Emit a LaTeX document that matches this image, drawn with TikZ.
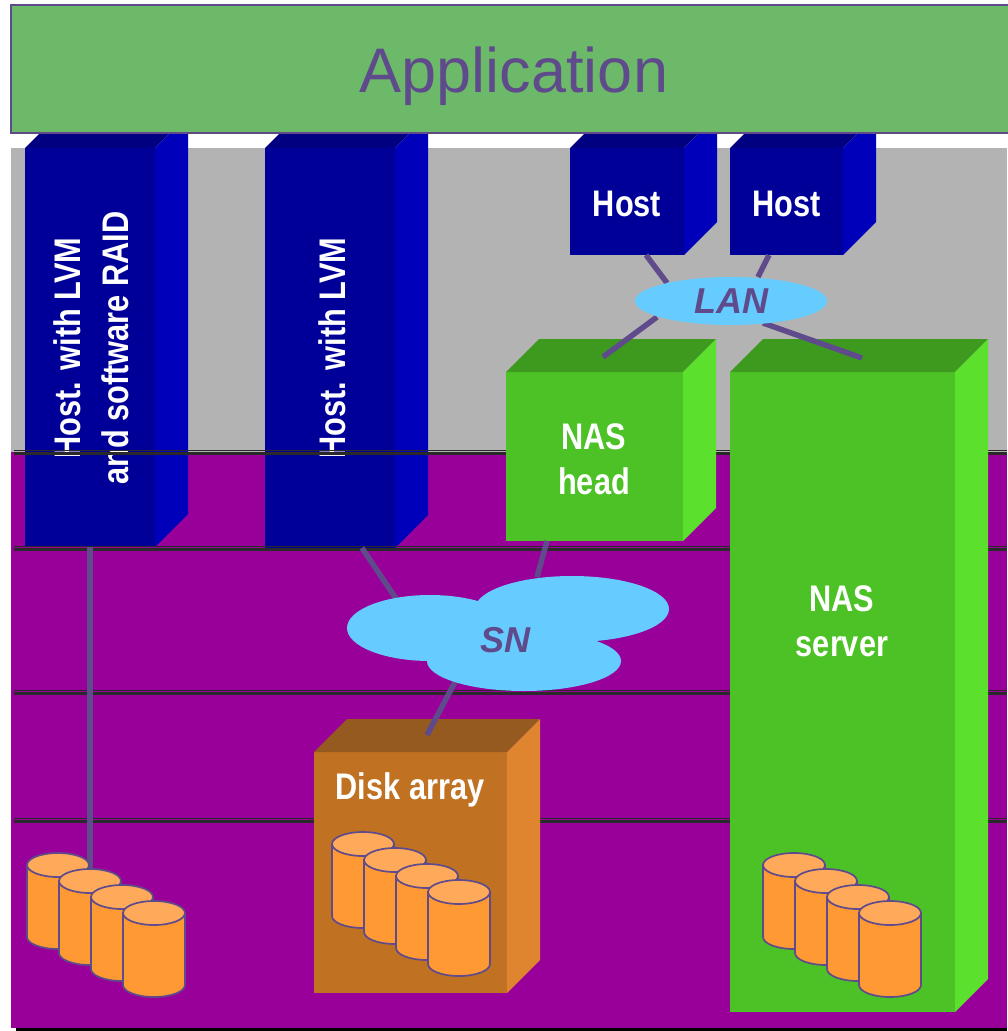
\documentclass[tikz,border=0pt]{standalone}
\usepackage{fontspec}
\setmainfont{Liberation Sans}
\newfontfamily\nfont[FakeStretch=0.83]{Liberation Sans}
\usetikzlibrary{shapes.geometric,calc}
\definecolor{appgreen}{HTML}{6DB96A}
\definecolor{ink}{HTML}{5F4B8B}
\definecolor{graybg}{HTML}{B3B3B3}
\definecolor{purplebg}{HTML}{990099}
\definecolor{rule}{HTML}{2A2A2A}
\definecolor{bluefront}{HTML}{000099}
\definecolor{blueright}{HTML}{0000BB}
\definecolor{bluetop}{HTML}{000080}
\definecolor{greenfront}{HTML}{4DC227}
\definecolor{greentop}{HTML}{3D9A1F}
\definecolor{greenright}{HTML}{5BE02D}
\definecolor{orfront}{HTML}{C07222}
\definecolor{ortop}{HTML}{955A1F}
\definecolor{orright}{HTML}{DF842F}
\definecolor{cylbody}{HTML}{FF9933}
\definecolor{cyltop}{HTML}{FFAA5A}
\definecolor{cloudc}{HTML}{66CCFF}
\pgfdeclarelayer{front}
\pgfsetlayers{main,front}
\newcommand\boxfaces[3]{%
  \fill[#2] (#1.north west) -- ++(33,-33) -- ($(#1.north east)+(33,-33)$) -- (#1.north east) -- cycle;
  \fill[#3] (#1.north east) -- ++(33,-33) -- ($(#1.south east)+(33,-33)$) -- (#1.south east) -- cycle;}
\tikzset{
  face/.style={inner sep=0, outer sep=0, draw=none},
  wlabel/.style={text=white, font=\nfont\bfseries\fontsize{37}{45}\selectfont, align=center, inner sep=0},
  cloudtext/.style={text=ink, font=\bfseries\itshape\fontsize{36}{40}\selectfont, inner sep=0},
  conn/.style={draw=ink, line width=5.5pt},
  thinrule/.style={draw=rule, line width=1.2pt},
  thickrule/.style={draw=rule, line width=2.6pt},
  disk/.pic={
    \path[draw=ink, line width=1.7pt, fill=cylbody] (-31,0) -- (-31,72)
      arc[start angle=180, end angle=0, x radius=31, y radius=12] -- (31,0) -- cycle;
    \path[draw=ink, line width=1.7pt, fill=cyltop] (0,0) ellipse[x radius=31, y radius=12];
  }
}
\begin{document}
\begin{tikzpicture}[x=1pt,y=-1pt]
\useasboundingbox (0,0) rectangle (1007,1031);
\fill[white] (0,0) rectangle (1007,1031);
% backgrounds
\fill[graybg] (11,148) rectangle (1007,452);
\fill[purplebg] (11,452) rectangle (1007,1028);
\fill[black] (16,1028) rectangle (1007,1031);

% blue hosts
\node[face, fill=bluefront, minimum width=130, minimum height=399] (h1) at (90,347.5) {};
\boxfaces{h1}{bluetop}{blueright}
\node[face, fill=bluefront, minimum width=130, minimum height=400] (h2) at (330,348) {};
\boxfaces{h2}{bluetop}{blueright}
\node[face, fill=bluefront, minimum width=114, minimum height=107] (h3) at (627,201.5) {};
\boxfaces{h3}{bluetop}{blueright}
\node[face, fill=bluefront, minimum width=113, minimum height=107] (h4) at (786.5,201.5) {};
\boxfaces{h4}{bluetop}{blueright}
\node[wlabel, rotate=90, font=\nfont\bfseries\fontsize{37}{48}\selectfont] (h1t) at (91,348) {Host. with LVM\\and software RAID};
\node[wlabel, rotate=90] (h2t) at (332,348) {Host. with LVM};
\node[wlabel] (h3t) at ($(h3.center)+(0,2)$) {Host};
\node[wlabel] (h4t) at ($(h4.center)+(0,2)$) {Host};

% application bar
\node[face, draw=ink, line width=2pt, fill=appgreen, minimum width=1000, minimum height=128, anchor=north west] (app) at (11,5) {};
\node[text=ink, font=\fontsize{63}{70}\selectfont, inner sep=0] (appt) at (514,76) {Application};

% horizontal rules
\foreach \y in {450.7,546.7,690.5,818.5}{
  \draw[thinrule] (14,\y) -- (1007,\y);
  \draw[thickrule] (14,\y+3) -- (1007,\y+3);
}

% green and orange boxes
\node[face, fill=greenfront, minimum width=177, minimum height=169] (nh) at (594.5,456.5) {};
\boxfaces{nh}{greentop}{greenright}
\node[wlabel] (nht) at (594,459) {NAS\\head};
\node[face, fill=greenfront, minimum width=225, minimum height=640] (ns) at (842.5,692) {};
\boxfaces{ns}{greentop}{greenright}
\node[wlabel] (nst) at (842,621) {NAS\\server};
\node[face, fill=orfront, minimum width=193, minimum height=241] (da) at (410.5,872.5) {};
\boxfaces{da}{ortop}{orright}
\node[wlabel] (dat) at (410,790) {Disk array};

% clouds (front layer)
\begin{pgfonlayer}{front}
\node[ellipse, fill=cloudc, minimum width=192, minimum height=48, inner sep=0, cloudtext] (lan) at (731,301) {LAN};
\fill[cloudc] (430,628) ellipse[x radius=83, y radius=33];
\fill[cloudc] (572,609) ellipse[x radius=97, y radius=33];
\fill[cloudc] (524,661) ellipse[x radius=97, y radius=30];
\node[cloudtext] (sn) at (505,640) {SN};
\end{pgfonlayer}

% connectors
\coordinate (cylA) at (90,872);
\draw[conn] (h1.south) -- (cylA);
\draw[conn] ($(h2.south)+(32,0)$) -- ($(sn)+(-108,-40)$);
\draw[conn] ($(nh.south)+(-47.5,0)$) -- ($(sn)+(32,-63)$);
\draw[conn] ($(sn)+(-50,42)$) -- ($(da.north)+(16.5,-17)$);
\draw[conn] ($(h3.south)+(19,0)$) -- ($(lan.center)+(-64,-18)$);
\draw[conn] ($(h4.south)+(-17.5,0)$) -- ($(lan.center)+(27,-24)$);
\draw[conn] ($(lan.center)+(-74,16)$) -- ($(nh.north)+(8.5,-15)$);
\draw[conn] ($(lan.center)+(32,22)$) -- ($(ns.north)+(19.5,-14)$);

% disks
\foreach \i in {0,...,3}{
  \pic at (58+\i*32, 865+\i*16) {disk};
}
\foreach \i in {0,...,3}{
  \pic at (363+\i*32, 844+\i*16) {disk};
}
\foreach \i in {0,...,3}{
  \pic at (794+\i*32, 865+\i*16) {disk};
}
\end{tikzpicture}
\end{document}
